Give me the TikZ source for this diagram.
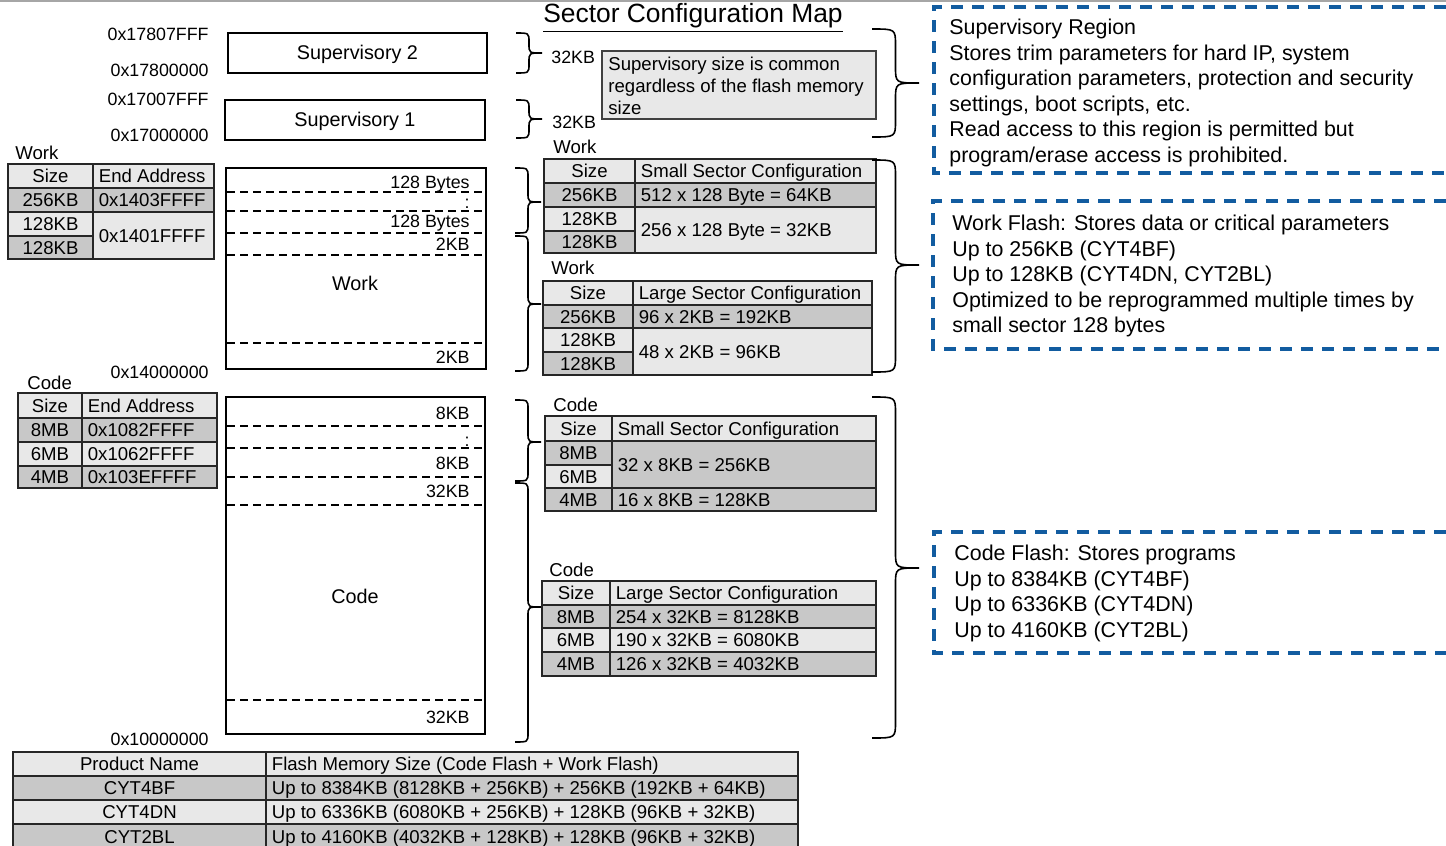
\documentclass[tikz,border=0pt]{standalone}
\usepackage{fontspec}
\setmainfont{Liberation Sans}

\definecolor{cellhi}{HTML}{E8E8E8}
\definecolor{celllo}{HTML}{C8C8C8}
\definecolor{noteblue}{RGB}{18,92,160}

\tikzset{
  txt/.style={font=\fontsize{9.3}{11.2}\selectfont, inner sep=0pt, text height=6.9pt, text depth=0.2pt},
  lbl/.style={font=\fontsize{8.9}{10.7}\selectfont, inner sep=0pt, text height=6.6pt, text depth=0.2pt},
  boxtxt/.style={font=\fontsize{9.9}{11.9}\selectfont, inner sep=0pt, text height=7.3pt, text depth=0.2pt},
  notetxt/.style={font=\fontsize{10.7}{12.75}\selectfont, inner sep=0pt, anchor=north west, align=left},
  cellbox/.style={draw=black!85, line width=1pt},
  regionbox/.style={draw=black, line width=1.3pt},
  sectorline/.style={dash pattern=on 4pt off 2.5pt, line width=0.8pt},
  notebox/.style={draw=noteblue, line width=1.7pt, dash pattern=on 6pt off 4.5pt},
  brc/.style={line width=0.8pt},
}

% table cell with centred / left text
\newcommand{\ccell}[7]{%
  \filldraw[cellbox, fill=#6] (#2,#3) rectangle (#4,#5);
  \node[txt] (#1) at ({(#2+#4)/2},{(#3+#5)/2}) {#7};}
\newcommand{\lcell}[7]{%
  \filldraw[cellbox, fill=#6] (#2,#3) rectangle (#4,#5);
  \node[txt, anchor=west] (#1) at ({#2+5.5},{(#3+#5)/2}) {#7};}

% right-pointing brace: x0, xtip, ytop, ytip, ybottom
\newcommand{\sbrace}[5]{%
  \pgfmathsetmacro\bx{(#1+#2)/2}%
  \pgfmathsetmacro\br{(#2-#1)*0.35}%
  \draw[brc] (#1,#3) .. controls (\bx,#3) .. (\bx,#3+\br) -- (\bx,#4-\br)
    .. controls (\bx,#4) .. (#2,#4) .. controls (\bx,#4) .. (\bx,#4+\br)
    -- (\bx,#5-\br) .. controls (\bx,#5) .. (#1,#5);}

\begin{document}
\begin{tikzpicture}[x=0.5pt, y=-0.5pt]
  \useasboundingbox (0,0) rectangle (1446,846);
  \draw[black!35, line width=0.8pt] (0,1) -- (1446,1);

  \node[font=\fontsize{13.2}{15}\selectfont, inner sep=0pt, anchor=base] (title) at (693,23) {\underline{Sector Configuration Map}};

  % memory map
  \node[lbl, anchor=east] (a17807fff) at (209,34) {0x17807FFF};
  \node[lbl, anchor=east] (a17800000) at (209,70) {0x17800000};
  \node[lbl, anchor=east] (a17007fff) at (209,99) {0x17007FFF};
  \node[lbl, anchor=east] (a17000000) at (209,135) {0x17000000};
  \node[lbl, anchor=east] (a14000000) at (209,372) {0x14000000};
  \node[lbl, anchor=east] (a10000000) at (209,739) {0x10000000};

  \draw[regionbox] (228,33) rectangle (487,73);
  \node[boxtxt] (sup2) at (357.5,52) {Supervisory 2};
  \draw[regionbox] (225,100) rectangle (485,140);
  \node[boxtxt] (sup1) at (355,119) {Supervisory 1};

  \draw[regionbox] (226,168) rectangle (486,369);
  \foreach \y in {192,211,233,255,343}
    \draw[sectorline] (227,\y) -- (485,\y);
  \node[lbl, anchor=east] (w128a) at (470,182) {128 Bytes};
  \node[lbl, anchor=east] (wdots) at (470,202) {:};
  \node[lbl, anchor=east] (w128b) at (470,221) {128 Bytes};
  \node[lbl, anchor=east] (w2ka) at (470,244) {2KB};
  \node[boxtxt] (work) at (355,283) {Work};
  \node[lbl, anchor=east] (w2kb) at (470,357) {2KB};

  \draw[regionbox] (226,397) rectangle (485,734);
  \foreach \y in {426,448,477,505,700}
    \draw[sectorline] (227,\y) -- (484,\y);
  \node[lbl, anchor=east] (c8ka) at (470,413) {8KB};
  \node[lbl, anchor=east] (cdots) at (470,440) {:};
  \node[lbl, anchor=east] (c8kb) at (470,463) {8KB};
  \node[lbl, anchor=east] (c32ka) at (470,491) {32KB};
  \node[boxtxt] (code) at (355,596) {Code};
  \node[lbl, anchor=east] (c32kb) at (470,717) {32KB};

  % end address tables
  \node[txt, anchor=west] (wtab) at (15,153) {Work};
  \ccell{wsz}{8}{164}{93}{188}{cellhi}{Size}
  \lcell{wend}{93}{164}{214}{188}{cellhi}{End Address}
  \ccell{wsa}{8}{188}{93}{212}{celllo}{256KB}
  \lcell{wea}{93}{188}{214}{212}{celllo}{0x1403FFFF}
  \ccell{wsb}{8}{212}{93}{236}{cellhi}{128KB}
  \ccell{wsc}{8}{236}{93}{259}{celllo}{128KB}
  \lcell{web}{93}{212}{214}{259}{cellhi}{0x1401FFFF}

  \node[txt, anchor=west] (ctab) at (27,383) {Code};
  \ccell{csz}{18}{393}{82}{418}{cellhi}{Size}
  \lcell{cend}{82}{393}{217}{418}{cellhi}{End Address}
  \ccell{csa}{18}{418}{82}{442}{celllo}{8MB}
  \lcell{cea}{82}{418}{217}{442}{celllo}{0x1082FFFF}
  \ccell{csb}{18}{442}{82}{466}{cellhi}{6MB}
  \lcell{ceb}{82}{442}{217}{466}{cellhi}{0x1062FFFF}
  \ccell{csc}{18}{466}{82}{488}{celllo}{4MB}
  \lcell{cec}{82}{466}{217}{488}{celllo}{0x103EFFFF}

  % left braces
  \sbrace{516}{542}{33}{53}{73}
  \sbrace{516}{542}{100}{119}{138}
  \sbrace{515}{541}{168}{202}{233}
  \sbrace{515}{541}{236}{304}{371}
  \sbrace{515}{541}{400}{442}{481}
  \sbrace{515}{541}{483}{607}{742}
  \node[lbl, anchor=west] (s2size) at (551,57) {32KB};
  \node[lbl, anchor=west] (s1size) at (552,122) {32KB};

  \filldraw[fill=cellhi, draw=black!75, line width=1pt] (602,51) rectangle (876,119);
  \node[font=\fontsize{9.3}{10.8}\selectfont, inner sep=0pt, anchor=north west, align=left] (supcommon) at (608,57)
    {Supervisory size is common\\regardless of the flash memory\\size};

  % sector tables
  \node[txt, anchor=west] (wsmall) at (553,147) {Work};
  \ccell{wss}{544}{159}{635}{183}{cellhi}{Size}
  \lcell{wsh}{635}{159}{876}{183}{cellhi}{Small Sector Configuration}
  \ccell{wsa1}{544}{183}{635}{207}{celllo}{256KB}
  \lcell{wsc1}{635}{183}{876}{207}{celllo}{512 x 128 Byte = 64KB}
  \ccell{wsa2}{544}{207}{635}{231}{cellhi}{128KB}
  \ccell{wsa3}{544}{231}{635}{253}{celllo}{128KB}
  \lcell{wsc2}{635}{207}{876}{253}{cellhi}{256 x 128 Byte = 32KB}

  \node[txt, anchor=west] (wlarge) at (551,268) {Work};
  \ccell{wls}{543}{281}{633}{305}{cellhi}{Size}
  \lcell{wlh}{633}{281}{872}{305}{cellhi}{Large Sector Configuration}
  \ccell{wla1}{543}{305}{633}{328}{celllo}{256KB}
  \lcell{wlc1}{633}{305}{872}{328}{celllo}{96 x 2KB = 192KB}
  \ccell{wla2}{543}{328}{633}{352}{cellhi}{128KB}
  \ccell{wla3}{543}{352}{633}{375}{celllo}{128KB}
  \lcell{wlc2}{633}{328}{872}{375}{cellhi}{48 x 2KB = 96KB}

  \node[txt, anchor=west] (csmall) at (553,405) {Code};
  \ccell{css}{545}{416}{612}{441}{cellhi}{Size}
  \lcell{csh}{612}{416}{876}{441}{cellhi}{Small Sector Configuration}
  \ccell{csa1}{545}{441}{612}{465}{celllo}{8MB}
  \ccell{csa2}{545}{465}{612}{488}{cellhi}{6MB}
  \lcell{csc1}{612}{441}{876}{488}{celllo}{32 x 8KB = 256KB}
  \ccell{csa3}{545}{488}{612}{511}{celllo}{4MB}
  \lcell{csc2}{612}{488}{876}{511}{celllo}{16 x 8KB = 128KB}

  \node[txt, anchor=west] (clarge) at (549,570) {Code};
  \ccell{cls}{542}{581}{610}{605}{cellhi}{Size}
  \lcell{clh}{610}{581}{876}{605}{cellhi}{Large Sector Configuration}
  \ccell{cla1}{542}{605}{610}{628}{celllo}{8MB}
  \lcell{clc1}{610}{605}{876}{628}{celllo}{254 x 32KB = 8128KB}
  \ccell{cla2}{542}{628}{610}{652}{cellhi}{6MB}
  \lcell{clc2}{610}{628}{876}{652}{cellhi}{190 x 32KB = 6080KB}
  \ccell{cla3}{542}{652}{610}{676}{celllo}{4MB}
  \lcell{clc3}{610}{652}{876}{676}{celllo}{126 x 32KB = 4032KB}

  % right braces
  \sbrace{872}{919}{29}{83}{137}
  \sbrace{872}{919}{160}{265}{372}
  \sbrace{872}{919}{397}{568}{738}

  % notes, open to the right
  \draw[notebox] (1446,7) -- (934,7) -- (934,173) -- (1446,173);
  \node[notetxt] (supnote) at (949,19) {Supervisory Region\\
    Stores trim parameters for hard IP, system\\
    configuration parameters, protection and security\\
    settings, boot scripts, etc.\\
    Read access to this region is permitted but\\
    program/erase access is prohibited.};
  \draw[notebox] (1446,201) -- (933,201) -- (933,349) -- (1446,349);
  \node[notetxt] (worknote) at (952,215) {Work Flash: Stores data or critical parameters\\
    Up to 256KB (CYT4BF)\\
    Up to 128KB (CYT4DN, CYT2BL)\\
    Optimized to be reprogrammed multiple times by\\
    small sector 128 bytes};
  \draw[notebox] (1446,532) -- (934,532) -- (934,653) -- (1446,653);
  \node[notetxt] (codenote) at (954,545) {Code Flash: Stores programs\\
    Up to 8384KB (CYT4BF)\\
    Up to 6336KB (CYT4DN)\\
    Up to 4160KB (CYT2BL)};

  % product table
  \ccell{pname}{13}{752}{266}{776}{cellhi}{Product Name}
  \lcell{psize}{266}{752}{798}{776}{cellhi}{Flash Memory Size (Code Flash + Work Flash)}
  \ccell{pbf}{13}{776}{266}{800}{celllo}{CYT4BF}
  \lcell{pbfsz}{266}{776}{798}{800}{celllo}{Up to 8384KB (8128KB + 256KB) + 256KB (192KB + 64KB)}
  \ccell{pdn}{13}{800}{266}{824}{cellhi}{CYT4DN}
  \lcell{pdnsz}{266}{800}{798}{824}{cellhi}{Up to 6336KB (6080KB + 256KB) + 128KB (96KB + 32KB)}
  \ccell{pbl}{13}{824}{266}{849}{celllo}{CYT2BL}
  \lcell{pblsz}{266}{824}{798}{849}{celllo}{Up to 4160KB (4032KB + 128KB) + 128KB (96KB + 32KB)}
\end{tikzpicture}
\end{document}
